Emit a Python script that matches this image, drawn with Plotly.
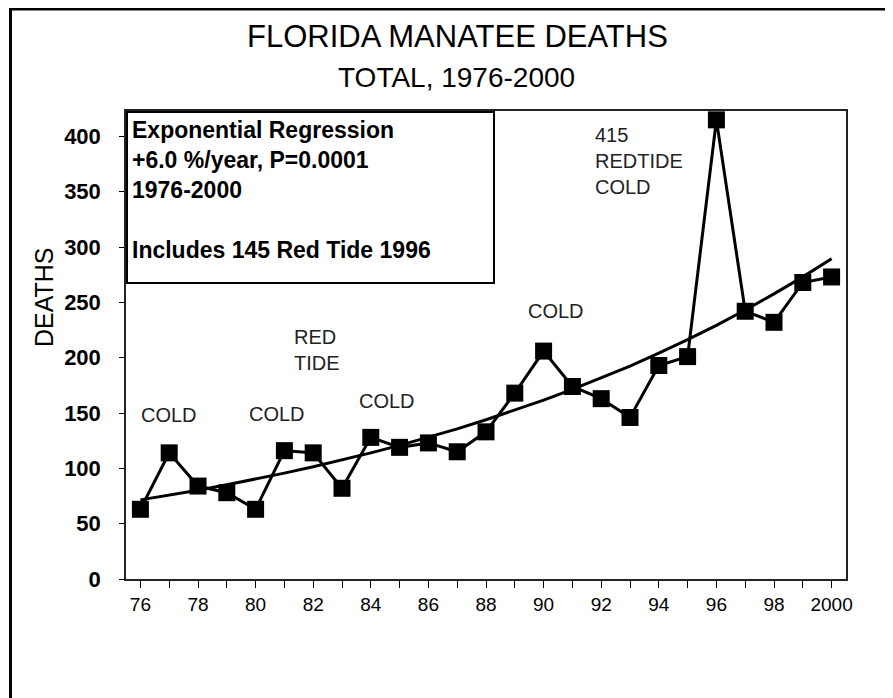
import plotly.graph_objects as go

# ---- data ----
years = list(range(1976, 2001))
deaths = [63, 114, 84, 78, 63, 116, 114, 82, 128, 119, 123, 115, 133,
          168, 206, 174, 163, 146, 193, 201, 415, 242, 232, 268, 273]
# exponential regression line (+6.0 %/year)
trend = [71.5, 75.8, 80.3, 85.2, 90.3, 95.7, 101.4, 107.5, 114.0, 120.8,
         128.1, 135.7, 143.9, 152.5, 161.7, 171.4, 181.6, 192.5, 204.1,
         216.3, 229.3, 243.1, 257.7, 273.1, 289.5]
tick_years = list(range(1976, 2001, 2))
tick_labels = ["76", "78", "80", "82", "84", "86", "88", "90", "92", "94",
               "96", "98", "2000"]
y_ticks = [0, 50, 100, 150, 200, 250, 300, 350, 400]

# event labels: (x year, y value, text, xanchor)
events = [
    (1977.0, 148, "COLD", "center"),
    (1980.75, 149, "COLD", "center"),
    (1984.56, 161, "COLD", "center"),
    (1981.25, 207, "RED<br>TIDE", "left"),
    (1990.42, 242, "COLD", "center"),
    (1991.72, 378, "415<br>REDTIDE<br>COLD", "left"),
]

# page offset (browser body margin)
OFF = 8
W, H = 893 - OFF, 698 - OFF
# plot area in page pixels: x 126..846, y 111..579
ml, mt = 126 - OFF, 111 - OFF
mr, mb = W - (846 - OFF), H - (579 - OFF)
pw, ph = W - ml - mr, H - mt - mb


def px(x):
    """page pixel x -> paper"""
    return (x - OFF - ml) / pw


def py(y):
    """page pixel y -> paper"""
    return 1 - (y - OFF - mt) / ph


FONT = "Liberation Sans, Arial, sans-serif"
NARROW = "Liberation Sans Narrow, Arial Narrow, Liberation Sans, Arial, sans-serif"

fig = go.Figure()
fig.add_trace(go.Scatter(x=years, y=trend, mode="lines",
                         line=dict(color="black", width=3),
                         hoverinfo="skip"))
fig.add_trace(go.Scatter(x=years, y=deaths, mode="lines+markers",
                         line=dict(color="black", width=3),
                         marker=dict(symbol="square", size=17, color="black")))

annotations = []
for x, y, t, xa in events:
    annotations.append(dict(x=x, y=y, xref="x", yref="y", text=t,
                            showarrow=False, xanchor=xa, yanchor="middle",
                            align="left",
                            font=dict(family=FONT, size=20, color="#222")))

# titles
annotations.append(dict(x=px(457), y=py(36.5), xref="paper", yref="paper",
                        text="FLORIDA MANATEE DEATHS", showarrow=False,
                        xanchor="center", yanchor="middle",
                        font=dict(family=FONT, size=31, color="black")))
annotations.append(dict(x=px(456.5), y=py(77.5), xref="paper", yref="paper",
                        text="TOTAL, 1976-2000", showarrow=False,
                        xanchor="center", yanchor="middle",
                        font=dict(family=FONT, size=28, color="black")))
# y-axis title
annotations.append(dict(x=px(44), y=py(297), xref="paper", yref="paper",
                        text="DEATHS", showarrow=False, textangle=-90,
                        xanchor="center", yanchor="middle",
                        font=dict(family=FONT, size=25, color="black")))
# regression box
annotations.append(dict(x=0, y=1, xref="paper", yref="paper",
                        text=("Exponential Regression<br>+6.0 %/year, P=0.0001"
                              "<br>1976-2000<br><br>Includes 145 Red Tide 1996"),
                        showarrow=False, xanchor="left", yanchor="top",
                        align="left", valign="top",
                        width=357, height=161, borderpad=4,
                        bordercolor="black", borderwidth=2, bgcolor="white",
                        font=dict(family=FONT, size=23, color="black",
                                  weight="bold")))

shapes = [
    # page border (left and top)
    dict(type="line", xref="paper", yref="paper", x0=px(10.5), x1=px(10.5),
         y0=py(6), y1=py(H + 20), line=dict(color="black", width=3)),
    dict(type="line", xref="paper", yref="paper", x0=px(9), x1=px(W + 20),
         y0=py(9), y1=py(9), line=dict(color="black", width=3)),
]

fig.update_layout(
    width=W, height=H,
    margin=dict(l=ml, r=mr, t=mt, b=mb),
    paper_bgcolor="white", plot_bgcolor="white",
    showlegend=False,
    annotations=annotations,
    shapes=shapes,
    xaxis=dict(range=[1975.5, 2000.5], tickvals=tick_years,
               ticktext=tick_labels, ticks="outside", ticklen=7,
               tickwidth=1, tickcolor="black",
               minor=dict(dtick=1, tick0=1976, ticks="outside", ticklen=7,
                          tickwidth=1, tickcolor="black"),
               showline=True, linecolor="#222", linewidth=1.5, mirror=True,
               showgrid=False, zeroline=False,
               tickfont=dict(family=NARROW, size=19, color="black")),
    yaxis=dict(range=[0, 423], tickvals=y_ticks, ticks="outside", ticklen=5,
               tickwidth=1, tickcolor="black", ticklabelstandoff=14,
               showline=True, linecolor="#222", linewidth=1.5, mirror=True,
               showgrid=False, zeroline=False,
               tickfont=dict(family=FONT, size=22, color="black",
                             weight="bold")),
)

fig.write_html("out.html")
